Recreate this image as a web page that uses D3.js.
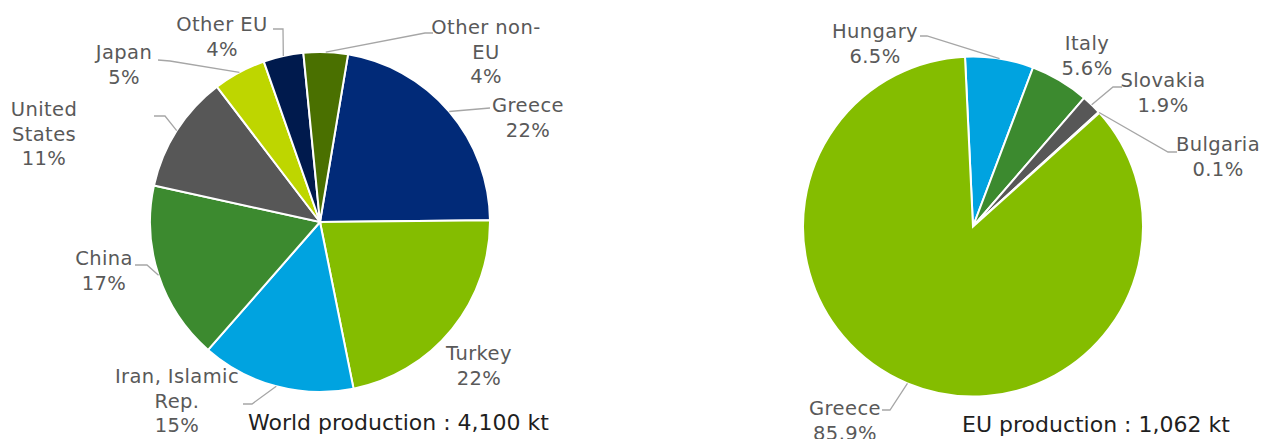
<!DOCTYPE html>
<html>
<head>
<meta charset="utf-8">
<script src="https://cdn.jsdelivr.net/npm/d3@7"></script>
<style>
    body { margin: 0; background: #ffffff; }
    svg.chart { display: block; font-family: Verdana, "DejaVu Sans", sans-serif; }
    .label { fill: #595959; font-size: 19.5px; letter-spacing: 0.4px; }
    .caption { fill: #1f1f1f; font-size: 22px; }
    .leader { fill: none; stroke: #a6a6a6; stroke-width: 1.3; }
    .slice { stroke: #ffffff; stroke-width: 2; }
</style>
</head>
<body>
<svg class="chart"></svg>
<script>
//
// Two pies: world production and EU production, drawn with d3.pie + d3.arc.
//

// World production shares (%), clockwise from Greece.
var worldCountries = ["Greece", "Turkey", "Iran, Islamic Rep.", "China", "United States", "Japan", "Other EU", "Other non-EU"];
var worldShares = [22.2, 22.0, 14.6, 17.0, 11.2, 5.0, 3.8, 4.2];
var worldLabelLines = [["Greece"], ["Turkey"], ["Iran, Islamic", "Rep."], ["China"], ["United", "States"], ["Japan"], ["Other EU"], ["Other non-", "EU"]];
var worldColors = ["#012a78", "#84bd00", "#00a3e0", "#3c8a2f", "#575757", "#bed600", "#001a4d", "#4a7000"];
var worldTotal = "4,100 kt";

// EU production shares (%), clockwise from Hungary.
var euCountries = ["Hungary", "Italy", "Slovakia", "Bulgaria", "Greece"];
var euShares = [6.5, 5.6, 1.9, 0.1, 85.9];
var euLabelLines = [["Hungary"], ["Italy"], ["Slovakia"], ["Bulgaria"], ["Greece"]];
var euColors = ["#00a3e0", "#3c8a2f", "#575757", "#001a4d", "#84bd00"];
var euTotal = "1,062 kt";

window.onload = function () {

    var width = 1268;
    var height = 439;
    var radius = 170;

    var svgElement = d3.select("svg.chart")
        .attr("width", width)
        .attr("height", height);

    // Label placement for each slice: text centre x, first baseline y, and the bend of the leader line (null = no leader).
    var worldLayout = [
        { x: 528, y: 112, leader: [[490, 108]] },
        { x: 479, y: 360, leader: null },
        { x: 177, y: 383, leader: [[243, 404], [252, 404]] },
        { x: 104, y: 265, leader: [[135, 265], [147, 265]] },
        { x: 44, y: 116, leader: [[154, 116], [165, 116]] },
        { x: 124, y: 59, leader: [[158, 60], [170, 61]] },
        { x: 222, y: 31, leader: [[273, 29], [283, 29]] },
        { x: 486, y: 34, leader: [[433, 33], [425, 33]] }
    ];

    var euLayout = [
        { x: 875, y: 38, leader: [[920, 36], [927, 36]] },
        { x: 1087, y: 50, leader: null },
        { x: 1163, y: 87, leader: [[1122, 87], [1113, 87]] },
        { x: 1218, y: 151, leader: [[1177, 152], [1168, 152]] },
        { x: 845, y: 415, leader: [[882, 410], [890, 410]] }
    ];

    function drawPie (cx, cy, startDeg, names, shares, lines, colors, layout, formatPct, caption, captionX, captionY) {

        var pie = d3.pie()
            .sort(null) // Keep the order of the data.
            .value(function (d) { return d; })
            .startAngle(startDeg * Math.PI / 180)
            .endAngle((startDeg + 360) * Math.PI / 180);

        var arc = d3.arc()
            .innerRadius(0)
            .outerRadius(radius);

        var arcs = pie(shares);

        var group = svgElement.append("g")
            .attr("transform", "translate(" + cx + ", " + cy + ")");

        group.selectAll("path.slice")
            .data(arcs)
            .enter()
                .append("path")
                .attr("class", "slice")
                .attr("fill", function (d, i) { return colors[i]; })
                .attr("d", arc);

        arcs.forEach(function (d, i) {
            var place = layout[i];

            if (place.leader) { // Leader from the label to the slice edge at its mid angle.
                var mid = (d.startAngle + d.endAngle) / 2;
                var edge = [cx + radius * Math.sin(mid), cy - radius * Math.cos(mid)];
                svgElement.append("path")
                    .attr("class", "leader")
                    .attr("d", d3.line()(place.leader.concat([edge])));
            }

            var text = svgElement.append("text")
                .attr("class", "label")
                .attr("text-anchor", "middle")
                .attr("x", place.x)
                .attr("y", place.y);

            lines[i].concat([formatPct(shares[i])]).forEach(function (line, k) {
                text.append("tspan")
                    .attr("x", place.x)
                    .attr("dy", k === 0 ? 0 : 24.5)
                    .text(line);
            });
        });

        svgElement.append("text")
            .attr("class", "caption")
            .attr("x", captionX)
            .attr("y", captionY)
            .text(caption);
    };

    drawPie(320, 222, 9.5, worldCountries, worldShares, worldLabelLines, worldColors, worldLayout,
        function (v) { return Math.round(v) + "%"; },
        "World production : " + worldTotal, 248, 430);

    drawPie(973, 226.5, -2.7, euCountries, euShares, euLabelLines, euColors, euLayout,
        function (v) { return d3.format(".1f")(v) + "%"; },
        "EU production : " + euTotal, 962, 432);
};
</script>
</body>
</html>
